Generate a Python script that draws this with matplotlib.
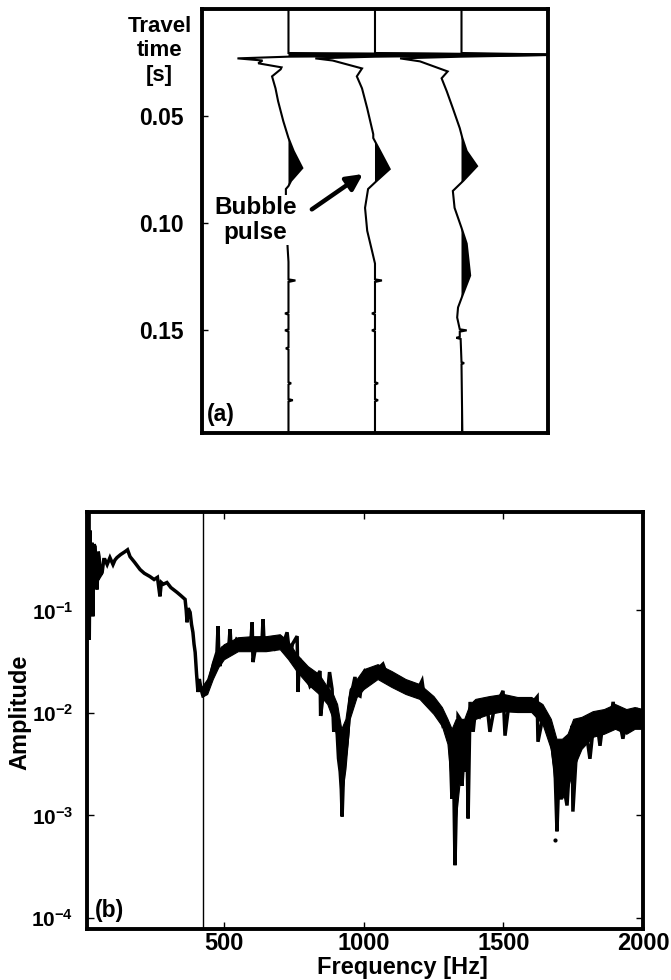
import math
import matplotlib
matplotlib.use('Agg')
import matplotlib.pyplot as plt
from matplotlib.ticker import FixedLocator, NullLocator, FuncFormatter

plt.rcParams['font.family'] = ['Liberation Sans', 'DejaVu Sans']
plt.rcParams['font.weight'] = 'bold'
plt.rcParams['mathtext.fontset'] = 'custom'
plt.rcParams['mathtext.rm'] = 'Liberation Sans:bold'

# ---- (a) airgun signatures, three shots ----
trace_base = [1.0, 2.0, 3.0]
time_ticks = [0.05, 0.10, 0.15]

t1 = [0.0, 0.0205, 0.0213, 0.0222, 0.0230, 0.0240, 0.0253, 0.0272, 0.0281, 0.0314,
      0.0370, 0.0430, 0.0523, 0.0602, 0.0663, 0.0742, 0.0802, 0.0826, 0.0840, 0.0928,
      0.1114, 0.1180, 0.1262, 0.1267, 0.1274, 0.1416, 0.1421, 0.1427, 0.1495, 0.1500,
      0.1506, 0.1579, 0.1584, 0.1590, 0.1742, 0.1747, 0.1753, 0.1821, 0.1826, 0.1832,
      0.1980]
a1 = [0.0, 0.0, 3.2, 0.0, -0.59, -0.30, -0.35, -0.08, -0.09, -0.19,
      -0.15, -0.12, -0.06, 0.0, 0.06, 0.16, 0.03, 0.0, -0.03, -0.03,
      -0.01, 0.0, 0.0, 0.08, 0.0, 0.0, -0.04, 0.0, 0.0, -0.04,
      0.0, 0.0, -0.03, 0.0, 0.0, 0.03, 0.0, 0.0, 0.05, 0.0,
      0.0]

t2 = [0.0, 0.0205, 0.0213, 0.0222, 0.0230, 0.0240, 0.0277, 0.0314, 0.0370, 0.0463,
      0.0584, 0.0602, 0.0663, 0.0747, 0.0802, 0.0840, 0.0928, 0.1035, 0.1128, 0.1188,
      0.1262, 0.1267, 0.1274, 0.1416, 0.1421, 0.1427, 0.1495, 0.1500, 0.1506, 0.1742,
      0.1747, 0.1753, 0.1821, 0.1826, 0.1832, 0.1980]
a2 = [0.0, 0.0, 2.2, 0.0, -0.69, -0.49, -0.15, -0.21, -0.15, -0.09,
      -0.02, -0.02, 0.06, 0.17, 0.02, -0.08, -0.115, -0.09, -0.035, 0.0,
      0.0, 0.08, 0.0, 0.0, -0.035, 0.0, 0.0, -0.035, 0.0, 0.0,
      0.035, 0.0, 0.0, 0.035, 0.0, 0.0]

t3 = [0.0, 0.0205, 0.0213, 0.0222, 0.0230, 0.0244, 0.0291, 0.0323, 0.0384, 0.0463,
      0.0556, 0.0602, 0.0663, 0.0733, 0.0802, 0.0849, 0.0928, 0.1021, 0.1095, 0.1244,
      0.1328, 0.1393, 0.1440, 0.1495, 0.1500, 0.1506, 0.1530, 0.1535, 0.1540, 0.1648,
      0.1653, 0.1658, 0.1980]
a3 = [0.0, 0.0, 1.2, 0.0, -0.71, -0.48, -0.16, -0.23, -0.17, -0.10,
      -0.02, 0.01, 0.06, 0.18, 0.02, -0.10, -0.08, 0.0, 0.06, 0.10,
      0.02, -0.04, -0.05, -0.02, 0.06, -0.02, -0.02, -0.06, -0.01, 0.0,
      0.03, 0.0, 0.01]

# ---- (b) amplitude spectrum ----
freq_hz = [12, 14, 16, 18, 21, 24, 28, 31, 35, 39,
           43, 46, 50, 53, 58, 64, 70, 74, 82, 92,
           98, 103, 110, 117, 130, 146, 155, 164, 180, 200,
           215, 235, 250, 262, 271, 276, 283, 296, 310, 332,
           345, 361, 365, 368, 372, 379, 384, 389, 393, 397,
           402, 407, 412, 418, 425, 435, 450, 462, 475, 479,
           482, 486, 495, 511, 518, 522, 527, 533, 545, 558,
           570, 583, 595, 601, 604, 615, 629, 636, 640, 645,
           655, 665, 676, 683, 690, 701, 712, 726, 733, 737,
           745, 762, 765, 770, 783, 795, 808, 825, 844, 846,
           855, 869, 878, 887, 893, 900, 905, 910, 916, 920,
           923, 928, 933, 940, 944, 948, 951, 960, 969, 978,
           987, 995, 1005, 1018, 1030, 1050, 1069, 1078, 1087, 1100,
           1119, 1130, 1141, 1160, 1177, 1195, 1209, 1218, 1227, 1240,
           1248, 1262, 1273, 1284, 1295, 1302, 1309, 1316, 1322, 1327,
           1333, 1338, 1345, 1352, 1358, 1363, 1370, 1374, 1381, 1392,
           1400, 1406, 1417, 1430, 1442, 1452, 1470, 1485, 1499, 1506,
           1520, 1535, 1550, 1570, 1585, 1600, 1621, 1624, 1631, 1645,
           1656, 1665, 1674, 1685, 1692, 1698, 1705, 1710, 1718, 1728,
           1738, 1746, 1749, 1760, 1774, 1788, 1800, 1810, 1822, 1835,
           1846, 1858, 1871, 1882, 1893, 1907, 1918, 1928, 1943, 1960,
           1978, 1989, 1996, 2000]
amplitude = [0.95, 0.082, 0.95, 0.052, 0.6, 0.128, 0.457, 0.0875, 0.44, 0.418,
             0.2, 0.16, 0.374, 0.334, 0.22, 0.234, 0.313, 0.313, 0.28, 0.327,
             0.30, 0.28, 0.31, 0.327, 0.35, 0.374, 0.39, 0.334, 0.295, 0.25,
             0.23, 0.214, 0.2, 0.21, 0.137, 0.187, 0.18, 0.187, 0.167, 0.15,
             0.14, 0.128, 0.1, 0.0765, 0.105, 0.0957, 0.073, 0.0611, 0.0468, 0.0391,
             0.024, 0.016, 0.0214, 0.0171, 0.0146, 0.018, 0.0214, 0.0299, 0.0391, 0.07,
             0.034, 0.0286, 0.0418, 0.0391, 0.0468, 0.0655, 0.0374, 0.0447, 0.0523, 0.0489,
             0.05, 0.0468, 0.044, 0.0765, 0.0313, 0.0468, 0.0523, 0.0489, 0.0818, 0.04,
             0.0468, 0.0447, 0.05, 0.044, 0.0489, 0.0523, 0.0468, 0.0611, 0.0418, 0.035,
             0.0468, 0.056, 0.016, 0.034, 0.0267, 0.024, 0.0183, 0.021, 0.0256, 0.00935,
             0.015, 0.0137, 0.025, 0.0171, 0.00654, 0.00875, 0.00654, 0.0036, 0.00267, 0.0018,
             0.000977, 0.0026, 0.00357, 0.005, 0.00654, 0.0097, 0.0137, 0.0171, 0.0224, 0.015,
             0.0146, 0.0214, 0.0256, 0.024, 0.025, 0.0267, 0.0299, 0.0256, 0.0224, 0.023,
             0.0205, 0.0214, 0.0171, 0.018, 0.016, 0.0171, 0.0205, 0.0137, 0.0128, 0.0143,
             0.0137, 0.0097, 0.0102, 0.00748, 0.0078, 0.0056, 0.0056, 0.00145, 0.0029, 0.000327,
             0.0018, 0.00935, 0.00875, 0.00195, 0.00357, 0.00267, 0.005, 0.000935, 0.0128, 0.00654,
             0.0106, 0.0109, 0.00935, 0.0109, 0.0117, 0.00654, 0.0122, 0.0137, 0.0164, 0.006,
             0.0122, 0.0131, 0.0109, 0.0122, 0.0109, 0.0122, 0.0143, 0.00523, 0.00654, 0.0102,
             0.00935, 0.0069, 0.00478, 0.0029, 0.0007, 0.00214, 0.0029, 0.00357, 0.0018, 0.00125,
             0.00357, 0.00748, 0.00109, 0.00357, 0.00447, 0.0063, 0.0056, 0.00357, 0.0073, 0.00818,
             0.00478, 0.00875, 0.00935, 0.0078, 0.0128, 0.00748, 0.0078, 0.0056, 0.00935, 0.0078,
             0.0102, 0.00818, 0.00915, 0.00875]

# spread of the noisy spectrum above the bubble frequency (upper / lower edge)
band_freq = [420, 440, 460, 480, 500, 550, 600, 650, 700, 730,
             760, 800, 840, 870, 890, 905, 920, 935, 950, 975,
             1000, 1050, 1100, 1150, 1200, 1250, 1280, 1300, 1315, 1330,
             1345, 1360, 1380, 1400, 1450, 1500, 1550, 1600, 1640, 1670,
             1690, 1710, 1730, 1750, 1780, 1820, 1860, 1900, 1940, 1970,
             2000]
band_hi = [0.0179, 0.0214, 0.0320, 0.0418, 0.0468, 0.0547, 0.0560, 0.0560, 0.0585, 0.0500,
           0.0374, 0.0286, 0.0239, 0.0179, 0.0153, 0.0122, 0.0070, 0.00875, 0.0171, 0.0214,
           0.0267, 0.0299, 0.0256, 0.0214, 0.0191, 0.0146, 0.0114, 0.00875, 0.0070, 0.00875,
           0.00875, 0.00875, 0.0122, 0.0137, 0.0146, 0.0153, 0.0143, 0.0143, 0.0122, 0.00875,
           0.0056, 0.0056, 0.00626, 0.00875, 0.00915, 0.0104, 0.0109, 0.0122, 0.0109, 0.0114,
           0.0109]
band_lo = [0.0143, 0.0153, 0.0214, 0.0280, 0.0334, 0.0400, 0.0400, 0.0400, 0.0418, 0.0334,
           0.0256, 0.0191, 0.0153, 0.0122, 0.00875, 0.0056, 0.00146, 0.00286, 0.00875, 0.0143,
           0.0171, 0.0214, 0.0179, 0.0153, 0.0137, 0.00978, 0.00748, 0.0050, 0.00183, 0.000935,
           0.00229, 0.00286, 0.0070, 0.00875, 0.00978, 0.0104, 0.0102, 0.0102, 0.00782, 0.00447,
           0.00146, 0.00146, 0.00183, 0.00286, 0.00447, 0.00585, 0.00626, 0.0070, 0.00626, 0.0070,
           0.0070]

bubble_freq = 425
stray_point = (1685, 0.00057)
freq_ticks = [500, 1000, 1500, 2000]
amp_ticks = [1e-1, 1e-2, 1e-3, 1e-4]

fig = plt.figure(figsize=(6.71, 9.80), dpi=100)

# top panel: wiggle traces with positive lobes filled
ax = fig.add_axes([0.301, 0.558, 0.5157, 0.4327])
for base, t, a in zip(trace_base, [t1, t2, t3], [a1, a2, a3]):
    x = [base + v for v in a]
    ax.plot(x, t, color='k', lw=1.5, solid_joinstyle='miter')
    ax.fill_betweenx(t, base, x, where=[v > 0 for v in a],
                     interpolate=True, color='k', lw=0)
ax.set_xlim(0, 4)
ax.set_ylim(0.198, 0.0)
ax.set_xticks([])
ax.yaxis.set_major_locator(FixedLocator(time_ticks))
ax.yaxis.set_major_formatter(FuncFormatter(lambda v, p: f'{v:.2f}'))
ax.tick_params(axis='y', direction='in', length=4, width=1, pad=13, labelsize=16.5)
for s in ax.spines.values():
    s.set_linewidth(2.8)

ax.annotate('', xy=(1.86, 0.0770), xytext=(1.27, 0.0935),
            arrowprops=dict(arrowstyle='-|>', lw=3.2, color='k', mutation_scale=24,
                            shrinkA=0, shrinkB=0))
ax.text(0.62, 0.0985, 'Bubble\npulse', ha='center', va='center', fontsize=17.5,
        linespacing=1.1,
        bbox=dict(facecolor='white', edgecolor='none', pad=1))
ax.text(0.015, 0.045, '(a)', transform=ax.transAxes, fontsize=16.5, va='center')
fig.text(0.238, 0.948, 'Travel\ntime\n[s]', ha='center', va='center',
         fontsize=16, linespacing=1.2)

# bottom panel: amplitude spectrum on log scale
bx = fig.add_axes([0.1297, 0.052, 0.8286, 0.4255])
bx.fill_between(band_freq, band_lo, band_hi, color='k', lw=0.8, edgecolor='k')
bx.plot(freq_hz, amplitude, color='k', lw=2.5, solid_joinstyle='miter')
bx.plot(*stray_point, 'o', color='k', ms=2)
bx.axvline(bubble_freq, color='k', lw=1)
bx.set_yscale('log')
bx.set_xlim(10, 2000)
bx.set_ylim(7.8e-5, 0.91)
bx.xaxis.set_major_locator(FixedLocator(freq_ticks))
bx.yaxis.set_major_locator(FixedLocator(amp_ticks))
bx.yaxis.set_minor_locator(NullLocator())
bx.yaxis.set_major_formatter(FuncFormatter(
    lambda v, p: r'$\mathrm{10^{%d}}$' % round(math.log10(v))))
bx.tick_params(axis='x', direction='in', length=5, width=1, pad=2, labelsize=17,
               top=True)
bx.tick_params(axis='y', direction='in', length=5, width=1, pad=10, labelsize=15,
               right=True)
for s in bx.spines.values():
    s.set_linewidth(2.8)
bx.text(0.015, 0.045, '(b)', transform=bx.transAxes, fontsize=16.5, va='center')

fig.text(0.030, 0.273, 'Amplitude', rotation=90, ha='center', va='center', fontsize=17)
fig.text(0.600, 0.013, 'Frequency [Hz]', ha='center', va='center', fontsize=17)

fig.savefig('out.png', dpi=100, facecolor='white')
